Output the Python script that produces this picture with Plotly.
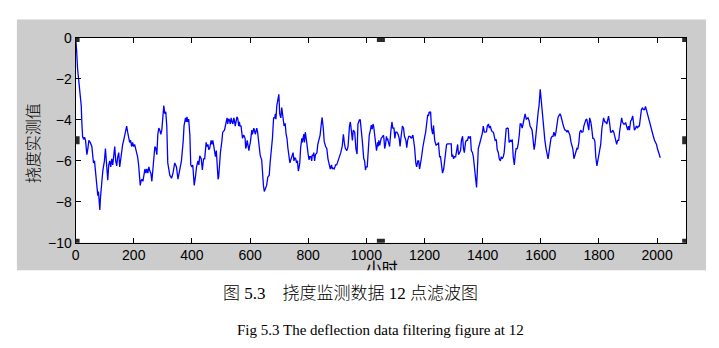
import plotly.graph_objects as go

hours = [0, 1.1, 3.4, 4.6, 6.8, 10.3, 12.5, 16, 19.4, 21.7, 24, 27.4, 30.8, 34.2, 36.5, 38.8, 42.2, 45.6, 50.2, 55.9,
         59.3, 61.6, 65, 68.4, 70.7, 73, 76.4, 78.7, 81, 83.3, 85.5, 87.8, 90.1, 93.5, 95.8, 99.2, 102.6, 104.9, 107.2, 110.6,
         114, 117.5, 120.9, 124.3, 127.7, 131.1, 134.6, 138, 141.4, 144.8, 148.3, 151.7, 155.1, 158.5, 161.9, 165.4, 168.8, 172.2, 175.6, 179,
         182.5, 185.9, 189.3, 192.7, 196.1, 199.6, 203, 206.4, 209.8, 213.3, 216.7, 220.1, 222.4, 224.7, 228.1, 231.5, 234.9, 238.4, 241.8, 245.2,
         248.6, 252, 255.4, 258.9, 262.3, 265.7, 269.1, 272.6, 276, 279.4, 282.8, 286.2, 289.7, 293.1, 296.5, 299.9, 303.3, 306.8, 310.2, 313.6,
         317, 324, 330, 335, 341, 347, 352, 358, 364, 370, 373, 378, 381, 383, 386, 389, 393, 396, 400, 403,
         406, 408, 412, 416, 421, 424, 427, 432, 436, 440, 444, 449, 452, 455, 458, 461, 466, 469, 472, 478,
         481, 484, 487, 490, 492, 495, 498, 503, 506, 512, 515, 518, 521, 523, 526, 529, 532, 535, 538, 541,
         544, 546, 549, 552, 555, 558, 561, 563, 566, 569, 574, 578, 583, 585, 587, 590, 592, 596, 598, 601,
         606, 608, 610, 613, 615, 618, 620, 623, 626, 628, 631, 635, 640, 643, 646, 649, 652, 655, 657, 661,
         666, 669, 674, 677, 681, 685, 687, 689, 692, 695, 699, 702, 706, 709, 711, 713, 717, 719, 721, 724,
         727, 730, 734, 737, 739, 743, 748, 751, 754, 757, 760, 763, 766, 769, 771, 774, 778, 780, 782, 785,
         787, 790, 794, 797, 800, 803, 805, 809, 812, 814, 817, 819, 822, 825, 830, 833, 837, 841, 845, 848,
         852, 855, 860, 864, 868, 871, 874, 876, 880, 883, 885, 889, 892, 894, 898, 903, 907, 912, 917, 919,
         921, 925, 928, 933, 937, 942, 945, 949, 952, 955, 960, 964, 968, 971, 976, 979, 983, 986, 991, 994,
         997, 999, 1003, 1007, 1010, 1014, 1017, 1020, 1023, 1025, 1028, 1032, 1035, 1039, 1041, 1043, 1046, 1048, 1051, 1056,
         1059, 1061, 1063, 1066, 1069, 1071, 1073, 1076, 1080, 1084, 1088, 1091, 1095, 1098, 1101, 1105, 1109, 1113, 1116, 1118,
         1120, 1124, 1128, 1131, 1136, 1139, 1142, 1146, 1150, 1155, 1160, 1163, 1166, 1170, 1173, 1177, 1180, 1183, 1187, 1190,
         1194, 1197, 1201, 1204, 1207, 1211, 1214, 1216, 1218, 1221, 1224, 1228, 1231, 1235, 1238, 1240, 1242, 1245, 1248, 1252,
         1255, 1259, 1262, 1266, 1269, 1272, 1276, 1279, 1283, 1287, 1292, 1294, 1297, 1300, 1303, 1307, 1310, 1314, 1317, 1320,
         1324, 1327, 1331, 1334, 1337, 1341, 1344, 1348, 1351, 1355, 1358, 1361, 1365, 1368, 1372, 1375, 1379, 1382, 1385, 1389,
         1392, 1396, 1399, 1402, 1406, 1409, 1413, 1416, 1420, 1423, 1426, 1430, 1433, 1437, 1440, 1443, 1447, 1450, 1454, 1457,
         1461, 1464, 1467, 1471, 1474, 1478, 1481, 1485, 1488, 1491, 1495, 1498, 1502, 1505, 1509, 1512, 1515, 1519, 1522, 1526,
         1529, 1532, 1536, 1539, 1543, 1546, 1550, 1553, 1556, 1560, 1563, 1567, 1570, 1573, 1577, 1580, 1584, 1587, 1591, 1594,
         1598, 1601, 1604, 1608, 1611, 1614, 1618, 1621, 1625, 1628, 1632, 1635, 1639, 1642, 1645, 1649, 1652, 1656, 1659, 1662,
         1666, 1669, 1673, 1676, 1680, 1683, 1686, 1690, 1693, 1697, 1700, 1704, 1707, 1710, 1714, 1717, 1721, 1724, 1727, 1731,
         1734, 1738, 1741, 1745, 1748, 1751, 1755, 1758, 1762, 1765, 1768, 1772, 1775, 1779, 1782, 1786, 1789, 1793, 1796, 1799,
         1803, 1806, 1810, 1813, 1816, 1820, 1823, 1827, 1830, 1833, 1837, 1840, 1844, 1847, 1851, 1854, 1857, 1861, 1864, 1868,
         1871, 1875, 1878, 1881, 1885, 1888, 1892, 1895, 1899, 1902, 1905, 1909, 1912, 1916, 1919, 1922, 1926, 1929, 1933, 1936,
         1939, 1943, 1946, 1950, 1953, 1957, 1960, 1963, 1967, 1970, 1974, 1977, 1980, 1984, 1987, 1991, 1994, 1998, 2001, 2005,
         2008, 2011]

deflection = [-0.1, -0.15, -0.6, -1.2, -1.5, -2.0, -2.4, -3.0, -3.3, -4.2, -4.8, -4.95, -4.85, -5.0, -5.3, -5.7, -5.4, -5.0, -5.1, -5.3,
              -5.8, -6.1, -6.0, -6.5, -6.9, -7.4, -7.7, -7.5, -8.2, -8.4, -7.8, -7.3, -6.9, -6.5, -6.3, -6.0, -5.4, -5.8, -6.2, -6.95,
              -6.2, -6.0, -6.3, -5.9, -6.2, -5.6, -5.3, -6.0, -6.25, -5.8, -5.6, -6.3, -5.9, -5.4, -5.2, -5.0, -4.7, -4.4, -4.3, -4.6,
              -4.9, -5.1, -5.0, -5.3, -5.1, -5.3, -5.2, -5.4, -5.6, -5.8, -6.2, -6.9, -7.2, -7.0, -6.9, -7.0, -6.7, -6.4, -6.6, -6.4,
              -6.6, -6.3, -6.5, -6.6, -7.0, -6.4, -6.1, -5.3, -5.4, -5.7, -4.7, -4.4, -4.5, -4.7, -4.5, -3.6, -3.3, -3.7, -3.6, -4.3,
              -6.1, -6.7, -6.85, -6.6, -6.1, -6.3, -6.9, -6.45, -6.0, -5.05, -4.28, -3.9, -4.1, -3.85, -4.1, -3.96, -4.74, -6.2, -6.3, -6.2,
              -6.75, -7.2, -6.8, -6.3, -6.0, -6.2, -5.75, -5.9, -6.45, -5.9, -5.9, -5.1, -5.3, -5.2, -5.45, -5.4, -5.0, -5.2, -5.0, -5.6,
              -5.8, -5.5, -6.3, -6.9, -6.8, -6.0, -5.6, -5.05, -4.6, -4.5, -4.2, -4.1, -3.9, -4.2, -3.95, -4.0, -4.2, -3.9, -4.1, -4.2,
              -3.9, -4.0, -4.3, -4.1, -3.85, -3.95, -4.3, -4.1, -4.3, -4.3, -4.9, -4.74, -4.9, -5.4, -5.3, -5.0, -5.2, -5.5, -5.3, -5.1,
              -4.5, -4.7, -4.6, -4.4, -4.5, -4.7, -4.6, -4.4, -4.6, -4.9, -5.5, -5.75, -5.95, -7.05, -7.2, -7.5, -7.4, -7.3, -7.2, -6.8,
              -6.7, -6.1, -5.36, -4.9, -3.9, -3.9, -3.7, -3.96, -3.3, -3.1, -2.75, -3.7, -3.9, -3.4, -3.6, -3.9, -4.3, -4.2, -4.2, -4.7,
              -4.9, -5.36, -5.9, -6.1, -6.0, -5.75, -5.6, -6.0, -5.85, -5.9, -6.1, -6.0, -6.5, -6.3, -6.1, -5.36, -4.9, -5.1, -4.95, -4.7,
              -5.1, -4.6, -5.0, -5.5, -5.7, -5.95, -5.8, -5.8, -6.0, -5.7, -5.75, -5.6, -6.0, -5.7, -5.6, -5.2, -4.96, -4.74, -4.2, -3.88,
              -4.43, -5.05, -5.3, -5.4, -5.9, -6.1, -6.3, -6.4, -6.2, -6.4, -6.35, -6.4, -6.3, -6.2, -6.2, -6.0, -5.9, -5.6, -5.3, -4.9,
              -4.7, -5.2, -5.4, -5.5, -5.3, -4.3, -4.1, -4.6, -5.0, -4.5, -4.6, -5.4, -5.67, -4.2, -4.0, -4.0, -4.9, -5.0, -5.9, -6.0,
              -6.45, -6.3, -6.3, -5.36, -4.74, -4.5, -4.25, -4.45, -4.2, -4.3, -4.6, -5.1, -5.5, -5.1, -5.3, -5.0, -5.25, -5.1, -4.9, -4.8,
              -4.75, -5.0, -5.4, -5.2, -4.8, -5.0, -4.9, -5.1, -5.3, -4.6, -4.1, -4.4, -4.4, -4.9, -4.6, -4.6, -4.7, -4.9, -5.3, -5.0,
              -4.8, -4.3, -4.4, -4.8, -5.0, -5.36, -5.0, -4.8, -4.8, -4.9, -4.74, -4.96, -5.36, -6.1, -6.3, -6.0, -6.0, -6.4, -6.1, -5.8,
              -5.36, -5.05, -4.8, -4.6, -4.1, -3.75, -3.8, -3.6, -3.65, -3.6, -4.4, -4.7, -4.27, -5.0, -5.1, -5.25, -5.2, -5.2, -5.1, -5.8,
              -5.8, -6.5, -6.6, -6.4, -6.0, -5.6, -5.2, -5.17, -5.17, -5.17, -5.17, -5.8, -5.7, -5.9, -5.8, -5.8, -5.45, -5.2, -5.7, -5.6,
              -5.5, -5.0, -4.8, -5.4, -5.6, -5.1, -5.0, -5.0, -4.8, -4.9, -4.8, -5.5, -5.6, -5.8, -6.5, -6.9, -7.3, -6.4, -5.4, -5.2,
              -5.0, -4.9, -4.65, -4.3, -4.6, -4.6, -4.58, -4.3, -4.2, -4.4, -4.3, -4.5, -4.58, -4.6, -4.9, -5.0, -4.96, -5.45, -5.6, -5.9,
              -6.0, -5.8, -5.9, -5.8, -5.6, -5.1, -4.43, -4.4, -4.43, -5.1, -5.0, -5.05, -4.96, -5.8, -6.2, -5.7, -5.4, -5.4, -5.2, -4.74,
              -4.2, -4.2, -4.4, -4.2, -3.8, -3.7, -3.96, -3.9, -3.9, -4.05, -4.3, -4.4, -4.5, -4.9, -5.45, -5.2, -4.74, -4.2, -3.6, -3.3,
              -2.5, -3.0, -3.4, -4.12, -4.5, -5.0, -5.4, -5.7, -5.9, -5.6, -5.3, -4.9, -4.8, -4.8, -4.6, -4.8, -4.6, -4.12, -3.9, -3.8,
              -3.7, -3.8, -4.1, -4.2, -4.4, -4.5, -4.5, -4.6, -4.5, -4.6, -4.74, -5.1, -5.3, -5.4, -5.9, -5.7, -5.5, -5.4, -5.44, -5.1,
              -4.6, -4.5, -4.6, -4.58, -4.3, -4.12, -4.0, -3.96, -4.4, -4.5, -3.9, -4.1, -4.4, -4.9, -4.9, -5.05, -5.8, -6.25, -6.0, -5.75,
              -5.4, -5.2, -4.43, -4.2, -3.9, -4.1, -4.1, -4.2, -3.96, -3.81, -4.2, -4.6, -4.6, -4.5, -4.6, -4.8, -5.1, -5.2, -5.0, -5.0,
              -4.58, -4.1, -3.9, -4.1, -4.2, -4.2, -4.15, -4.3, -4.5, -4.3, -4.5, -4.05, -4.0, -3.8, -4.3, -4.5, -4.4, -4.3, -4.4, -4.3,
              -4.3, -3.95, -3.5, -3.4, -3.5, -3.5, -3.34, -3.5, -3.73, -3.9, -4.2, -4.3, -4.5, -4.7, -4.8, -5.0, -5.1, -5.2, -5.4, -5.6,
              -5.7, -5.85]

x_ticks = [0, 200, 400, 600, 800, 1000, 1200, 1400, 1600, 1800, 2000]
y_ticks = [-10, -8, -6, -4, -2, 0]
x_range = [0, 2100]
y_range = [-10, 0]
y_label = "挠度实测值"
x_label = "小时"
caption_cn = "图 5.3\u3000挠度监测数据 12 点滤波图"
caption_en = "Fig 5.3 The deflection data filtering figure at 12"

W, H = 719, 348


def px_x(p):
    return p / W


def px_y(p):
    return 1 - p / H


# pixel layout of the MATLAB-style figure
grey_box = (13, 12, 706, 275)      # left, top, right, bottom
axes_box = (72, 31.5, 686, 246)

fig = go.Figure()
fig.add_trace(go.Scatter(x=hours, y=deflection, mode="lines",
                         line=dict(color="#0000ff", width=1.3), xaxis="x", yaxis="y",
                         hoverinfo="skip", showlegend=False))
# x label drawn in an overlay subplot (the grey figure area) so its lower part is clipped
fig.add_trace(go.Scatter(x=[(380 - grey_box[0]) / (grey_box[2] - grey_box[0])], y=[0.0],
                         mode="text", text=[x_label], textposition="middle center", cliponaxis=True,
                         textfont=dict(family="Noto Sans CJK SC", size=16, color="black"),
                         xaxis="x2", yaxis="y2", hoverinfo="skip", showlegend=False))

axis_common = dict(showline=True, linecolor="black", linewidth=1, mirror="ticks",
                   ticks="inside", ticklen=5, tickcolor="black", showgrid=False,
                   zeroline=False, tickfont=dict(family="Liberation Sans", size=14, color="black"))

fig.update_layout(
    width=W, height=H,
    margin=dict(l=0, r=0, t=0, b=0, pad=0),
    paper_bgcolor="white", plot_bgcolor="rgba(0,0,0,0)",
    xaxis=dict(domain=[px_x(axes_box[0]), px_x(axes_box[2])], range=x_range, tickvals=x_ticks,
               anchor="y", **axis_common),
    yaxis=dict(domain=[px_y(axes_box[3]), px_y(axes_box[1])], range=y_range, tickvals=y_ticks,
               anchor="x", **axis_common),
    xaxis2=dict(domain=[px_x(grey_box[0]), px_x(grey_box[2])], range=[0, 1], visible=False,
                anchor="y2", fixedrange=True),
    yaxis2=dict(domain=[px_y(grey_box[3]), px_y(grey_box[1])], range=[0, 1], visible=False,
                anchor="x2", fixedrange=True),
    showlegend=False,
)

shapes = [
    dict(type="rect", xref="paper", yref="paper",
         x0=px_x(grey_box[0]), x1=px_x(grey_box[2]), y0=px_y(grey_box[3]), y1=px_y(grey_box[1]),
         fillcolor="#cccccc", line=dict(width=0), layer="below"),
    dict(type="rect", xref="x domain", yref="y domain", x0=0, x1=1, y0=0, y1=1,
         fillcolor="white", line=dict(width=0), layer="below"),
]
handle_x = [x_range[0], sum(x_range) / 2, x_range[1]]
handle_y = [y_range[0], sum(y_range) / 2, y_range[1]]
for hx in handle_x:
    for hy in handle_y:
        if hx == handle_x[1] and hy == handle_y[1]:
            continue
        shapes.append(dict(type="rect", xref="x", yref="y", xsizemode="pixel", ysizemode="pixel",
                           xanchor=hx, yanchor=hy, x0=-4, x1=4, y0=-4, y1=4,
                           fillcolor="#2a2a2a", line=dict(width=0), layer="above"))
fig.update_layout(shapes=shapes)

fig.add_annotation(text=y_label, xref="paper", yref="paper", x=px_x(28.5), y=px_y(141.5),
                   textangle=-90, showarrow=False, xanchor="center", yanchor="middle",
                   font=dict(family="Noto Sans CJK SC", size=16, color="black", weight=300))
fig.add_annotation(text=caption_cn, xref="paper", yref="paper", x=px_x(348), y=px_y(299),
                   showarrow=False, xanchor="center", yanchor="middle",
                   font=dict(family="Liberation Serif, Noto Sans CJK SC", size=17, color="black", weight=300))
fig.add_annotation(text=caption_en, xref="paper", yref="paper", x=px_x(378.5), y=px_y(338),
                   showarrow=False, xanchor="center", yanchor="middle",
                   font=dict(family="Liberation Serif", size=15, color="black"))

fig.write_html("out.html")
